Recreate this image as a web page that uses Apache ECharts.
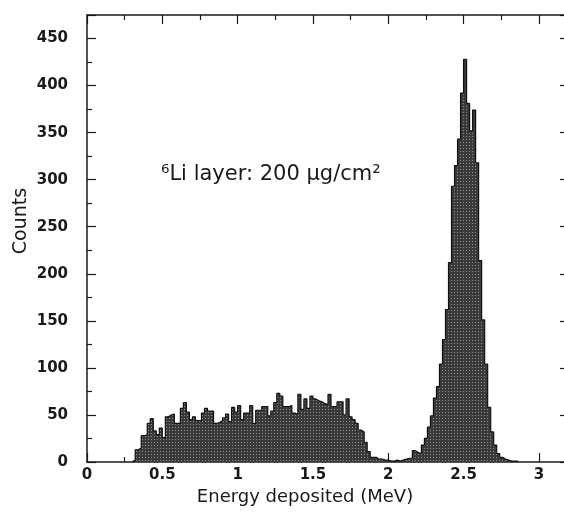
<!DOCTYPE html>
<html>
<head>
<meta charset="utf-8">
<script src="https://cdn.jsdelivr.net/npm/echarts@6/dist/echarts.min.js"></script>
<style>
  html, body { margin: 0; background: #fff; }
  #chart { width: 564px; height: 514px; }
</style>
</head>
<body>
<div id="chart"></div>
<script>
// 6Li energy deposit histogram, 0.02 MeV bins starting at 0.30 MeV
const binStart = 0.30;
const binWidth = 0.02;

// bins 0.30 .. 1.98 MeV (flat continuum)
const continuumCounts = [
  2, 13, 15, 28, 29, 41, 46, 33, 29, 36,
  26, 48, 50, 51, 41, 41, 57, 63, 53, 45,
  48, 44, 44, 52, 57, 54, 54, 41, 42, 44,
  47, 51, 43, 58, 53, 60, 45, 52, 52, 60,
  41, 55, 55, 59, 59, 49, 54, 63, 73, 70,
  59, 59, 60, 52, 51, 72, 56, 67, 57, 70,
  67, 65, 64, 62, 61, 72, 59, 59, 64, 64,
  50, 67, 48, 45, 41, 34, 32, 21, 11, 5,
  5, 3, 3, 2, 2
];

// bins 2.00 .. 2.84 MeV (alpha/triton peak)
const peakCounts = [
  1, 1, 2, 1, 2, 3, 4, 4, 12, 10,
  9, 18, 25, 37, 49, 68, 80, 104, 130, 162,
  212, 293, 315, 343, 392, 428, 381, 352, 374, 318,
  214, 151, 104, 58, 32, 18, 9, 5, 3, 2,
  1, 1, 1
];

const xTicks = [0, 0.5, 1, 1.5, 2, 2.5, 3];
const yTicks = [0, 50, 100, 150, 200, 250, 300, 350, 400, 450];

const counts = continuumCounts.concat(peakCounts);

// step outline: left edge of each bin, closed back to zero after the last one
const points = [[binStart, 0]];
counts.forEach((c, i) => points.push([+(binStart + i * binWidth).toFixed(2), c]));
points.push([+(binStart + counts.length * binWidth).toFixed(2), 0]);

// stipple fill like the old PAW hatch
const tile = document.createElement('canvas');
tile.width = 3;
tile.height = 3;
const tctx = tile.getContext('2d');
tctx.fillStyle = '#3a3a3a';
tctx.fillRect(0, 0, 3, 3);
tctx.fillStyle = '#8e8e8e';
tctx.fillRect(1, 1, 1, 1);

const font = '"DejaVu Sans", sans-serif';
const ink = '#1a1a1a';
const frameLine = { show: true, onZero: false, lineStyle: { color: ink, width: 1.5 } };
const majorTick = { show: true, inside: true, length: 9, lineStyle: { color: ink, width: 1.2 } };
const minorTick = { show: true, splitNumber: 2, length: 5, lineStyle: { color: ink, width: 1.2 } };

function xAxisDef(pos, labels) {
  return {
    type: 'value', position: pos, min: 0, max: 3.2, interval: 0.5,
    axisLine: frameLine, axisTick: majorTick, minorTick: minorTick,
    splitLine: { show: false },
    axisLabel: {
      show: labels, margin: 6, color: ink, fontFamily: font, fontSize: 15, fontWeight: 'bold',
      formatter: v => (xTicks.indexOf(+v.toFixed(2)) >= 0 ? String(+v.toFixed(2)) : '')
    }
  };
}

function yAxisDef(pos, labels) {
  return {
    type: 'value', position: pos, min: 0, max: 475, interval: 50,
    axisLine: frameLine, axisTick: majorTick, minorTick: minorTick,
    splitLine: { show: false },
    axisLabel: {
      show: labels, margin: 19, color: ink, fontFamily: font, fontSize: 15, fontWeight: 'bold',
      formatter: v => (yTicks.indexOf(v) >= 0 ? String(v) : '')
    }
  };
}

const chart = echarts.init(document.getElementById('chart'), null, { renderer: 'canvas' });

chart.setOption({
  animation: false,
  backgroundColor: '#fff',
  grid: { left: 87, right: -5, top: 15, bottom: 52, containLabel: false, outerBoundsMode: 'none' },
  xAxis: [xAxisDef('bottom', true), xAxisDef('top', false)],
  yAxis: [yAxisDef('left', true), yAxisDef('right', false)],
  series: [{
    type: 'line',
    step: 'end',
    xAxisIndex: 0,
    yAxisIndex: 0,
    symbol: 'none',
    data: points,
    lineStyle: { color: '#111', width: 1.2 },
    areaStyle: { color: { image: tile, repeat: 'repeat' }, opacity: 1 }
  }],
  graphic: [
    {
      type: 'text', x: 21, y: 221, rotation: Math.PI / 2,
      style: { text: 'Counts', fontFamily: font, fontSize: 19, fill: ink, align: 'center', verticalAlign: 'middle' }
    },
    {
      type: 'text', x: 305, y: 497,
      style: { text: 'Energy deposited (MeV)', fontFamily: font, fontSize: 18, fill: ink, align: 'center', verticalAlign: 'middle' }
    },
    {
      type: 'text', x: 161, y: 175,
      style: { text: '⁶Li layer: 200 μg/cm²', fontFamily: font, fontSize: 21, fill: ink, align: 'left', verticalAlign: 'middle' }
    }
  ]
});
</script>
</body>
</html>
